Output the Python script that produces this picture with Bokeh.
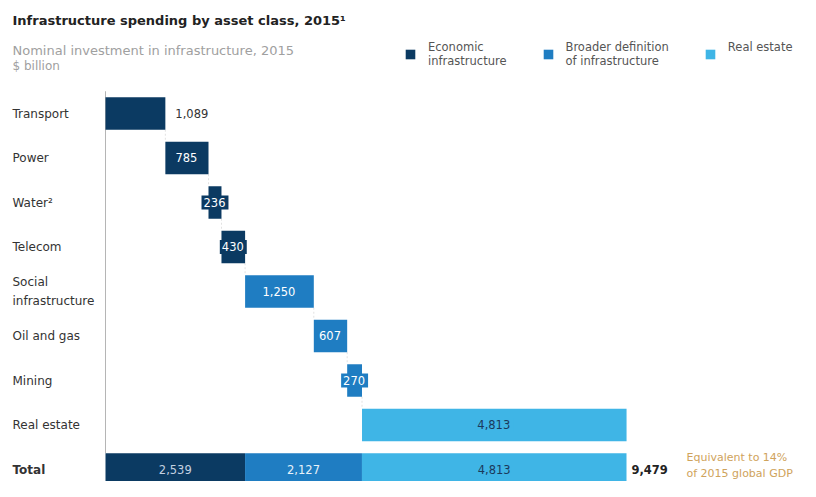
from bokeh.plotting import figure
from bokeh.models import (ColumnDataSource, Range1d, Label, Legend, LegendItem)
from bokeh.core.properties import value
from bokeh.embed import file_html
from bokeh.resources import INLINE

# ---------------- data ----------------
categories = ["Transport", "Power", "Water²", "Telecom", "Social\ninfrastructure",
              "Oil and gas", "Mining", "Real estate", "Total"]
asset_values = [1089, 785, 236, 430, 1250, 607, 270, 4813]
asset_groups = ["econ", "econ", "econ", "econ", "broad", "broad", "broad", "real"]
total_values = [2539, 2127, 4813]
total_groups = ["econ", "broad", "real"]
grand_total = 9479
legend_labels = {"econ": "Economic\ninfrastructure",
                 "broad": "Broader definition\nof infrastructure",
                 "real": "Real estate\n "}

title_text = "Infrastructure spending by asset class, 2015¹"
subtitle_1 = "Nominal investment in infrastructure, 2015"
subtitle_2 = "$ billion"
note_text = "Equivalent to 14%\nof 2015 global GDP"

# ---------------- styles ----------------
FONT = "DejaVu Sans"
colors = {"econ": "#0b3a62", "broad": "#1f7dc2", "real": "#3fb5e6"}
label_colors = {"econ": "#ffffff", "broad": "#ffffff", "real": "#1b3a5c"}
total_label_colors = {"econ": "#c3d0e0", "broad": "#e8f1f9", "real": "#1b3a5c"}
BAR_H = 0.73

W, H = 800, 481
x0_px, x1_px = 105, 626          # pixel positions of 0 and grand total
k = (x1_px - x0_px) / grand_total
row_gap = 44.5
row0_px = 113.0

p = figure(width=W, height=H, output_backend="svg", toolbar_location=None,
           x_range=Range1d(-x0_px / k, (W - x0_px) / k),
           y_range=Range1d(8 + (H - (row0_px + 8 * row_gap)) / row_gap, -row0_px / row_gap),
           min_border=0, min_border_left=0, min_border_right=0,
           min_border_top=0, min_border_bottom=0)
p.axis.visible = False
p.grid.visible = False
p.outline_line_color = None
p.background_fill_color = "white"
p.border_fill_color = "white"

# ---------------- waterfall rows ----------------
starts = []
acc = 0
for v in asset_values:
    starts.append(acc)
    acc += v
ends = [s + v for s, v in zip(starts, asset_values)]
rows = list(range(len(asset_values)))

# faint connectors
p.segment(x0=ends[:-1], x1=ends[:-1],
          y0=[r + BAR_H / 2 for r in rows[:-1]], y1=[r + 1 - BAR_H / 2 for r in rows[:-1]],
          line_color="#e2e2e2", line_width=1, line_dash="2 2")

# axis line
p.segment(x0=[0], x1=[0], y0=[-0.5], y1=[len(asset_values) - BAR_H / 2],
          line_color="#b5b5b5", line_width=1)

renderers = {}
for g in ["econ", "broad", "real"]:
    idx = [i for i in rows if asset_groups[i] == g]
    src = ColumnDataSource(dict(y=[rows[i] for i in idx],
                                left=[starts[i] for i in idx],
                                right=[ends[i] for i in idx]))
    renderers[g] = p.hbar(y="y", left="left", right="right", height=BAR_H, source=src,
                          fill_color=colors[g], line_color=None)

# total row
tot_row = len(asset_values)
tstarts = []
acc = 0
for v in total_values:
    tstarts.append(acc)
    acc += v
tsrc = ColumnDataSource(dict(y=[tot_row] * len(total_values), left=tstarts,
                             right=[s + v for s, v in zip(tstarts, total_values)],
                             color=[colors[g] for g in total_groups]))
p.hbar(y="y", left="left", right="right", height=BAR_H, source=tsrc,
       fill_color="color", line_color=None)

# ---------------- value labels ----------------
in_idx = [i for i in rows if i != 0]
in_src = ColumnDataSource(dict(
    x=[starts[i] + asset_values[i] / 2 for i in in_idx],
    y=[rows[i] for i in in_idx],
    t=[f"{asset_values[i]:,}" for i in in_idx],
    c=[label_colors[asset_groups[i]] for i in in_idx],
    bg=[colors[asset_groups[i]] for i in in_idx]))
p.text(x="x", y="y", text="t", source=in_src, text_color="c",
       text_font=value(FONT), text_font_size="11.5px",
       text_align="center", text_baseline="middle",
       background_fill_color="bg", padding=(2, 3, 2, 3))

p.text(x=[ends[0]], y=[rows[0]], text=[f"{asset_values[0]:,}"], text_color="#333333",
       text_font=value(FONT), text_font_size="11.5px", x_offset=10,
       text_align="left", text_baseline="middle")

tl_src = ColumnDataSource(dict(
    x=[s + v / 2 for s, v in zip(tstarts, total_values)],
    y=[tot_row] * len(total_values),
    t=[f"{v:,}" for v in total_values],
    c=[total_label_colors[g] for g in total_groups]))
p.text(x="x", y="y", text="t", source=tl_src, text_color="c",
       text_font=value(FONT), text_font_size="11.5px",
       text_align="center", text_baseline="middle")

p.text(x=[grand_total], y=[tot_row], text=[f"{grand_total:,}"], text_color="#222222",
       text_font=value(FONT), text_font_size="11.5px", text_font_style="bold",
       x_offset=5, text_align="left", text_baseline="middle")

p.text(x=[grand_total], y=[tot_row], text=[note_text], text_color="#cfa35c",
       text_font=value(FONT), text_font_size="11px", x_offset=60, y_offset=-4,
       text_align="left", text_baseline="middle", text_line_height=1.3)

# ---------------- category labels ----------------
cat_x = (12 - x0_px) / k
p.text(x=[cat_x] * len(categories), y=list(range(len(categories))), text=categories,
       text_color="#333333", text_font=value(FONT), text_font_size="12px",
       text_font_style=["normal"] * (len(categories) - 1) + ["bold"],
       text_align="left", text_baseline="middle", text_line_height=1.3)

# ---------------- titles ----------------
p.add_layout(Label(x=12, y=H - 20, x_units="screen", y_units="screen", text=title_text,
                   text_font=FONT, text_font_size="13px", text_font_style="bold",
                   text_color="#222222", text_baseline="middle"))
p.add_layout(Label(x=12, y=H - 50, x_units="screen", y_units="screen", text=subtitle_1,
                   text_font=FONT, text_font_size="13px",
                   text_color="#a0a0a0", text_baseline="middle"))
p.add_layout(Label(x=12, y=H - 65, x_units="screen", y_units="screen", text=subtitle_2,
                   text_font=FONT, text_font_size="12px",
                   text_color="#a0a0a0", text_baseline="middle"))

# ---------------- legend ----------------
legend = Legend(items=[LegendItem(label=legend_labels[g], renderers=[renderers[g]])
                       for g in ["econ", "broad", "real"]],
                orientation="horizontal", location=(404, 413),
                glyph_width=12, glyph_height=12, label_standoff=12, spacing=35,
                padding=0, margin=0, border_line_color=None,
                background_fill_alpha=0, label_text_font=FONT,
                label_text_font_size="11.5px", label_text_color="#555555",
                label_height=12)
p.add_layout(legend, "center")

open("out.html", "w").write(file_html(p, INLINE))
